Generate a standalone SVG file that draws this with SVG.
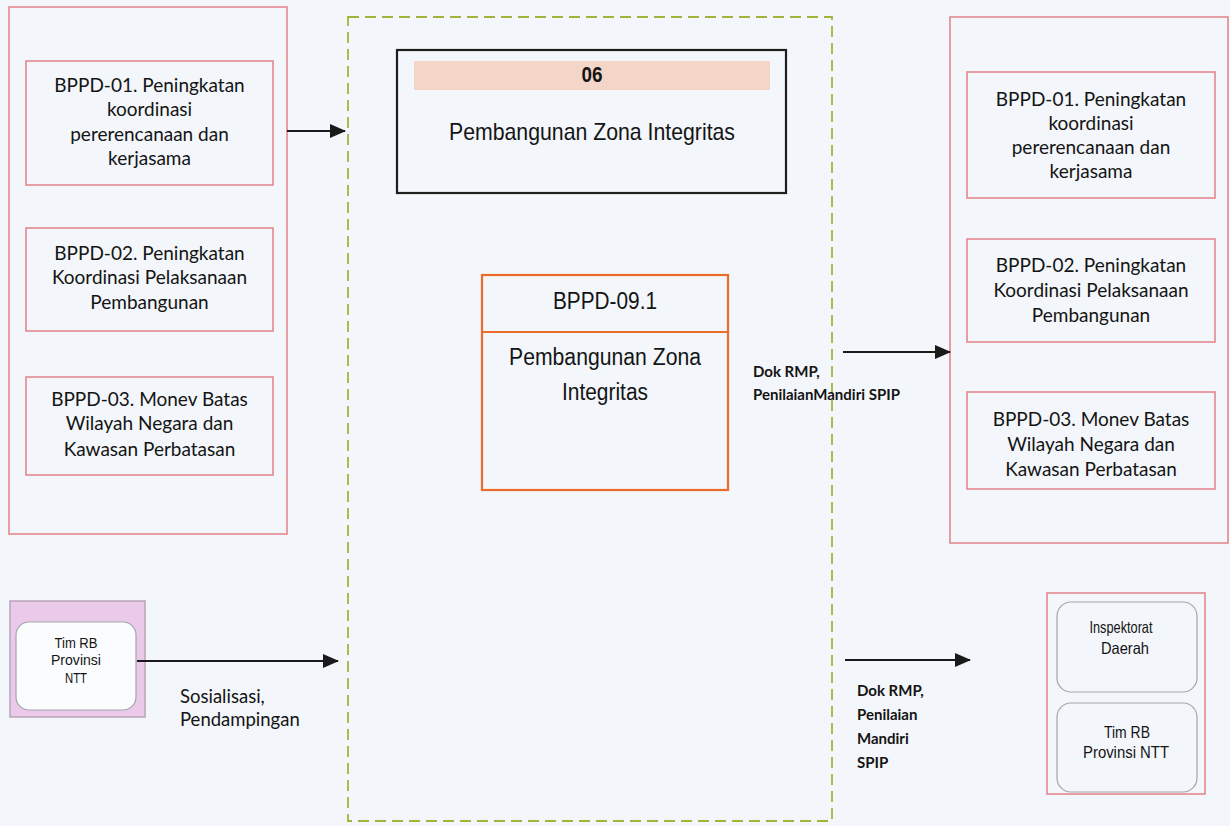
<svg xmlns="http://www.w3.org/2000/svg" width="1230" height="826" viewBox="0 0 1230 826">
  <defs>
    <style>
      .bg { fill: #f3f6fa; }
      .group-box { fill: none; stroke: #e38088; stroke-width: 1.5; }
      .item-box { fill: none; stroke: #e38088; stroke-width: 1.5; }
      .scope { fill: none; stroke: #a4b43a; stroke-width: 1.8; stroke-dasharray: 11 6; }
      .title-box { fill: none; stroke: #1e1e1e; stroke-width: 2.2; }
      .band { fill: #f4d6c8; }
      .proc-box { fill: none; stroke: #eb6b2b; stroke-width: 2.2; }
      .actor-outer { fill: #ebc9e9; stroke: #b8a5b8; stroke-width: 1.5; }
      .actor-inner { fill: #fbfcfd; stroke: #a5a5ad; stroke-width: 1.2; }
      .actor-round { fill: none; stroke: #a5a5ad; stroke-width: 1.2; }
      .hum { font-family: Lato, "Noto Sans", sans-serif; font-size: 19px; fill: #141414; text-anchor: middle; }
      .lbl { font-family: Lato, "Noto Sans", sans-serif; font-size: 15px; font-weight: bold; fill: #141414; }
      .lbl2 { font-family: Lato, "Noto Sans", sans-serif; font-size: 18.5px; fill: #141414; }
      .ar { font-family: "Liberation Sans", Arial, sans-serif; fill: #141414; text-anchor: middle; }
      .conn { stroke: #1a1a1a; stroke-width: 2; fill: none; marker-end: url(#arrow); }
    </style>
    <marker id="arrow" markerUnits="userSpaceOnUse" markerWidth="16" markerHeight="14" refX="15" refY="7" orient="auto">
      <path d="M0,0 L16,7 L0,14 z" fill="#1a1a1a"/>
    </marker>
  </defs>

  <rect class="bg" x="0" y="0" width="1230" height="826"/>

  <!-- Inputs: left column of activities -->
  <g id="input-group">
    <rect class="group-box" x="9" y="7" width="278" height="527"/>
    <g id="in-bppd-01">
      <rect class="item-box" x="26" y="61" width="247" height="124"/>
      <text class="hum"><tspan x="149.5" y="92">BPPD-01. Peningkatan</tspan><tspan x="149.5" y="116">koordinasi</tspan><tspan x="149.5" y="141">pererencanaan dan</tspan><tspan x="149.5" y="165">kerjasama</tspan></text>
    </g>
    <g id="in-bppd-02">
      <rect class="item-box" x="26" y="228" width="247" height="103"/>
      <text class="hum"><tspan x="149.5" y="260">BPPD-02. Peningkatan</tspan><tspan x="149.5" y="284">Koordinasi Pelaksanaan</tspan><tspan x="149.5" y="309">Pembangunan</tspan></text>
    </g>
    <g id="in-bppd-03">
      <rect class="item-box" x="26" y="377" width="247" height="98"/>
      <text class="hum"><tspan x="149.5" y="406">BPPD-03. Monev Batas</tspan><tspan x="149.5" y="430">Wilayah Negara dan</tspan><tspan x="149.5" y="456">Kawasan Perbatasan</tspan></text>
    </g>
  </g>

  <!-- Supporting actor -->
  <g id="tim-rb-left">
    <rect class="actor-outer" x="10" y="601" width="135" height="116"/>
    <rect class="actor-inner" x="16" y="622" width="120" height="88" rx="13" ry="13"/>
    <text class="ar" x="76" y="648" font-size="15.5" textLength="43" lengthAdjust="spacingAndGlyphs">Tim RB</text>
    <text class="ar" x="76" y="665" font-size="15.5" textLength="50" lengthAdjust="spacingAndGlyphs">Provinsi</text>
    <text class="ar" x="76" y="683" font-size="15.5" textLength="22" lengthAdjust="spacingAndGlyphs">NTT</text>
  </g>

  <!-- Process scope -->
  <g id="process-scope">
    <rect class="scope" x="348" y="17" width="484" height="804"/>
  </g>

  <g id="program-06">
    <rect class="title-box" x="397" y="50" width="389" height="143"/>
    <rect class="band" x="414" y="61" width="356" height="29"/>
    <text class="ar" x="592" y="82" font-size="22" font-weight="bold" textLength="21" lengthAdjust="spacingAndGlyphs">06</text>
    <text class="ar" x="592" y="140" font-size="24" textLength="286" lengthAdjust="spacingAndGlyphs">Pembangunan Zona Integritas</text>
  </g>

  <g id="bppd-09-1">
    <rect class="proc-box" x="482" y="275" width="246" height="215"/>
    <line x1="482" y1="332" x2="728" y2="332" stroke="#eb6b2b" stroke-width="2.2"/>
    <text class="ar" x="605" y="309" font-size="23" textLength="104" lengthAdjust="spacingAndGlyphs">BPPD-09.1</text>
    <text class="ar" x="605" y="365" font-size="23" textLength="192" lengthAdjust="spacingAndGlyphs">Pembangunan Zona</text>
    <text class="ar" x="605" y="400" font-size="23" textLength="86" lengthAdjust="spacingAndGlyphs">Integritas</text>
  </g>

  <!-- Outputs: right column of activities -->
  <g id="output-group">
    <rect class="group-box" x="950" y="17" width="278" height="526"/>
    <g id="out-bppd-01">
      <rect class="item-box" x="967" y="72" width="248" height="126"/>
      <text class="hum"><tspan x="1091" y="106">BPPD-01. Peningkatan</tspan><tspan x="1091" y="130">koordinasi</tspan><tspan x="1091" y="154">pererencanaan dan</tspan><tspan x="1091" y="178">kerjasama</tspan></text>
    </g>
    <g id="out-bppd-02">
      <rect class="item-box" x="967" y="239" width="248" height="103"/>
      <text class="hum"><tspan x="1091" y="272">BPPD-02. Peningkatan</tspan><tspan x="1091" y="297">Koordinasi Pelaksanaan</tspan><tspan x="1091" y="322">Pembangunan</tspan></text>
    </g>
    <g id="out-bppd-03">
      <rect class="item-box" x="967" y="392" width="248" height="97"/>
      <text class="hum"><tspan x="1091" y="426">BPPD-03. Monev Batas</tspan><tspan x="1091" y="451">Wilayah Negara dan</tspan><tspan x="1091" y="476">Kawasan Perbatasan</tspan></text>
    </g>
  </g>

  <!-- Reviewers -->
  <g id="reviewers">
    <rect class="group-box" x="1047" y="593" width="158" height="201"/>
    <g id="inspektorat">
      <rect class="actor-round" x="1057" y="602" width="140" height="90" rx="14" ry="14"/>
      <text class="ar" x="1121" y="633" font-size="16.5" textLength="63" lengthAdjust="spacingAndGlyphs">Inspektorat</text>
      <text class="ar" x="1125" y="654" font-size="16.5" textLength="48" lengthAdjust="spacingAndGlyphs">Daerah</text>
    </g>
    <g id="tim-rb-right">
      <rect class="actor-round" x="1057" y="703" width="140" height="89" rx="14" ry="14"/>
      <text class="ar" x="1127" y="738" font-size="16.5" textLength="46" lengthAdjust="spacingAndGlyphs">Tim RB</text>
      <text class="ar" x="1126" y="758" font-size="16.5" textLength="86" lengthAdjust="spacingAndGlyphs">Provinsi NTT</text>
    </g>
  </g>

  <!-- Connectors -->
  <g id="connectors">
    <line class="conn" x1="287" y1="131" x2="345" y2="131"/>
    <line class="conn" x1="137" y1="661" x2="338" y2="661"/>
    <line class="conn" x1="843" y1="352" x2="950" y2="352"/>
    <line class="conn" x1="845" y1="660" x2="970" y2="660"/>
  </g>

  <!-- Connector labels -->
  <g id="connector-labels">
    <text class="lbl2"><tspan x="180" y="703">Sosialisasi,</tspan><tspan x="180" y="726">Pendampingan</tspan></text>
    <text class="lbl"><tspan x="753" y="377">Dok RMP,</tspan><tspan x="753" y="400">PenilaianMandiri SPIP</tspan></text>
    <text class="lbl"><tspan x="857" y="696">Dok RMP,</tspan><tspan x="857" y="720">Penilaian</tspan><tspan x="857" y="744">Mandiri</tspan><tspan x="857" y="768">SPIP</tspan></text>
  </g>
</svg>
